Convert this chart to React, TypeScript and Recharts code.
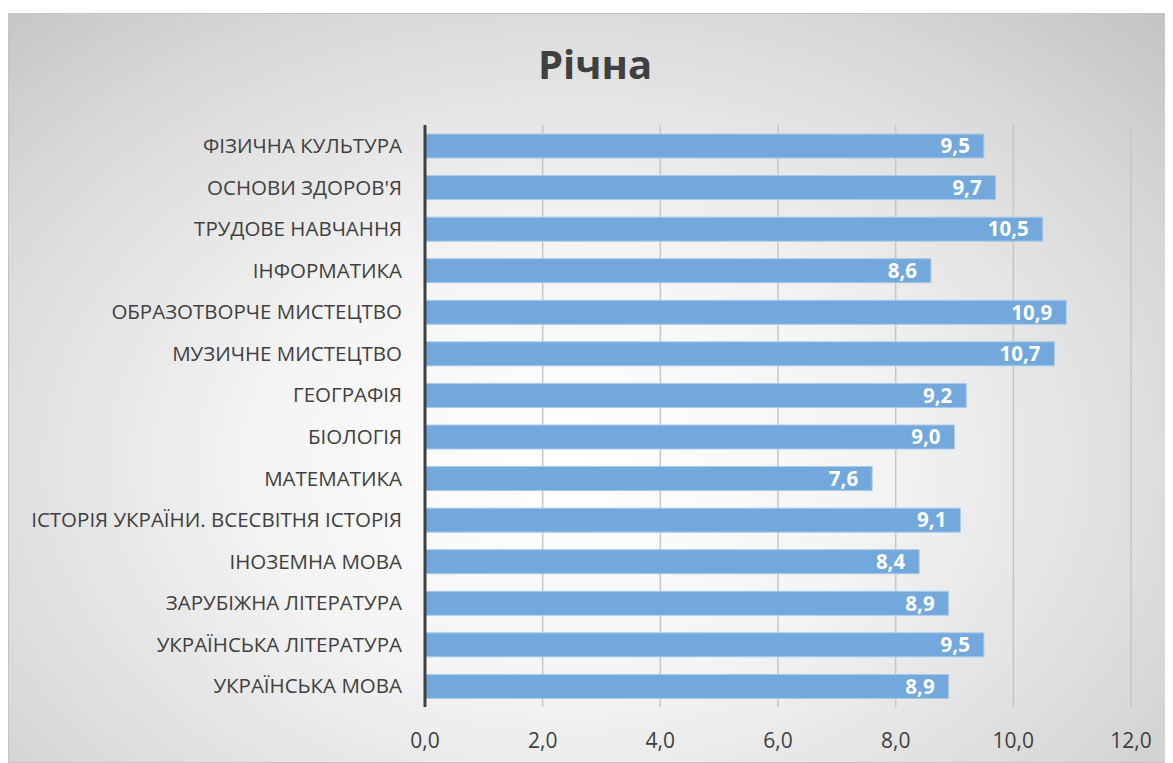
import { BarChart, Bar, XAxis, YAxis, CartesianGrid, LabelList, ReferenceLine } from "recharts";

const subjects = [
  "ФІЗИЧНА КУЛЬТУРА",
  "ОСНОВИ ЗДОРОВ'Я",
  "ТРУДОВЕ НАВЧАННЯ",
  "ІНФОРМАТИКА",
  "ОБРАЗОТВОРЧЕ МИСТЕЦТВО",
  "МУЗИЧНЕ МИСТЕЦТВО",
  "ГЕОГРАФІЯ",
  "БІОЛОГІЯ",
  "МАТЕМАТИКА",
  "ІСТОРІЯ УКРАЇНИ. ВСЕСВІТНЯ ІСТОРІЯ",
  "ІНОЗЕМНА МОВА",
  "ЗАРУБІЖНА ЛІТЕРАТУРА",
  "УКРАЇНСЬКА ЛІТЕРАТУРА",
  "УКРАЇНСЬКА МОВА",
];
const grades = [9.5, 9.7, 10.5, 8.6, 10.9, 10.7, 9.2, 9.0, 7.6, 9.1, 8.4, 8.9, 9.5, 8.9];
const xTicks = [0, 2, 4, 6, 8, 10, 12];

const data = subjects.map((s, i) => ({ subject: s, value: grades[i] }));

const fmt = (v: number) => v.toFixed(1).replace(".", ",");
const font = "'Open Sans', 'Noto Sans', sans-serif";

export default function App() {
  return (
    <div
      style={{
        position: "relative",
        width: 1165,
        height: 750,
        marginTop: 5,
        boxSizing: "border-box",
        border: "1px solid #c4c4c4",
        background: "radial-gradient(ellipse 75% 85% at 48% 60%, #ffffff 0%, #f4f4f4 35%, #d8d8d8 75%, #c2c2c2 100%)",
        fontFamily: font,
      }}
    >
      <div
        style={{
          position: "absolute",
          top: 22,
          left: 0,
          width: 1172,
          textAlign: "center",
          fontSize: 40,
          fontWeight: 700,
          color: "#404040",
        }}
      >
        Річна
      </div>
      <BarChart
        width={1165}
        height={750}
        data={data}
        layout="vertical"
        margin={{ top: 112, right: 42, bottom: 26, left: 0 }}
        style={{ position: "absolute", top: -1, left: -1 }}
      >
        <CartesianGrid horizontal={false} stroke="#c6c6c6" strokeWidth={1.5} />
        <XAxis
          type="number"
          domain={[0, 12]}
          ticks={xTicks}
          tickFormatter={fmt}
          axisLine={false}
          tickLine={false}
          tick={{ fill: "#404040", fontSize: 21, fontFamily: font }}
          tickMargin={20}
        />
        <YAxis
          type="category"
          dataKey="subject"
          width={417}
          axisLine={false}
          tickLine={false}
          tick={{ fill: "#404040", fontSize: 20.5, fontFamily: font }}
          tickMargin={17}
          interval={0}
        />
        <ReferenceLine x={0} stroke="#404040" strokeWidth={3} />
        <Bar dataKey="value" fill="#72a8db" stroke="#a9cbec" strokeWidth={1} barSize={24} isAnimationActive={false}>
          <LabelList
            dataKey="value"
            position="insideRight"
            offset={14}
            formatter={(v: number) => fmt(v)}
            style={{ fill: "#ffffff", fontSize: 20.5, fontWeight: 700, fontFamily: font }}
          />
        </Bar>
      </BarChart>
    </div>
  );
}
